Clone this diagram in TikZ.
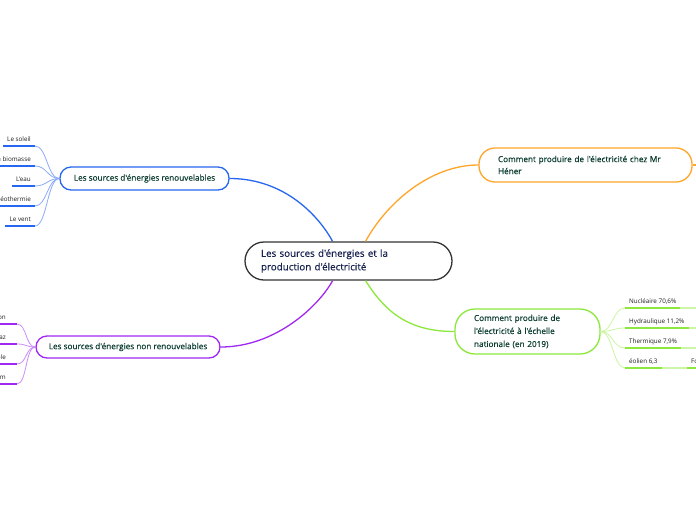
\documentclass[tikz,border=0pt]{standalone}
\usepackage{fontspec}
\setmainfont{Open Sans}[Ligatures=TeXOff]
\newfontfamily\mapfont{Open Sans}[Ligatures=TeXOff, FakeBold=0.35]
\usetikzlibrary{positioning}
\definecolor{renblue}{RGB}{38,102,240}
\definecolor{renpale}{RGB}{140,172,250}
\definecolor{nonpurple}{RGB}{160,40,240}
\definecolor{nonpale}{RGB}{205,140,250}
\definecolor{henorange}{RGB}{255,165,40}
\definecolor{natgreen}{RGB}{140,232,60}
\definecolor{natpale}{RGB}{205,245,165}
\definecolor{labelgreen}{RGB}{12,62,48}
\definecolor{labelnavy}{RGB}{24,34,80}
\definecolor{leafgray}{RGB}{30,30,30}
\tikzset{
  topic/.style={draw, line width=1.3pt, fill=white, align=left, text=labelgreen,
    font=\mapfont\fontsize{8.2}{12}\selectfont, inner ysep=0pt},
  leaf/.style={inner xsep=4pt, inner ysep=3pt, text depth=1.5pt, text=leafgray,
    font=\fontsize{6.3}{7}\selectfont},
  branch/.style={line width=1.3pt},
  twig/.style={line width=0.8pt},
  under/.style={line width=1.4pt}
}
\newcommand*{\Underline}[2]{\draw[under, #1] (#2.south west) -- (#2.south east);}

\begin{document}
\begin{tikzpicture}[x=1pt,y=-1pt]
    \useasboundingbox (0,0) rectangle (696,520);
    \clip (0,0) rectangle (696,520);
    \fill[white] (0,0) rectangle (696,520);

    \node[topic, draw=black!80, text=labelnavy, font=\mapfont\fontsize{9.8}{13.5}\selectfont,
      minimum width=207pt, minimum height=38pt, text width=175pt, inner xsep=16pt,
      rounded corners=19pt] (root) at (348.5,261)
      {Les sources d'énergies et la\\production d'électricité};

    \node[topic, draw=renblue, minimum width=169pt, minimum height=23pt,
      rounded corners=11pt] (renew) at (144.5,178.5)
      {Les sources d'énergies renouvelables};
    \node[topic, draw=nonpurple, minimum width=184pt, minimum height=22pt,
      rounded corners=11pt] (nonrenew) at (128,347)
      {Les sources d'énergies non renouvelables};
    \node[topic, draw=henorange, minimum width=213pt, minimum height=34pt,
      text width=175pt, inner xsep=19pt, rounded corners=16pt] (hener) at (585.5,165)
      {Comment produire de l'électricité chez Mr\\Héner};
    \node[topic, draw=natgreen, font=\mapfont\fontsize{8.2}{13}\selectfont,
      minimum width=145pt, minimum height=45pt, text width=107pt, inner xsep=19pt,
      rounded corners=20pt] (national) at (527.5,331.5)
      {Comment produire de\\l'électricité à l'échelle\\nationale (en 2019)};

    \draw[branch, renblue] (root.129) .. controls +(-13,-24) and +(56,0) .. (renew.east);
    \draw[branch, henorange] (root.49) .. controls +(20,-37) and +(-49,0) .. (hener.west);
    \draw[branch, nonpurple] (root.-129) .. controls +(-13,24) and +(56,0) .. (nonrenew.east);
    \draw[branch, natgreen] (root.-49) .. controls +(20,32) and +(-45,0) .. (national.west);

    \node[leaf, anchor=south east] (soleil) at (35,146) {Le soleil};
    \node[leaf, anchor=south east] (biomasse) at (35,166) {La biomasse};
    \node[leaf, anchor=south east] (eau) at (35,186) {L'eau};
    \node[leaf, anchor=south east] (geo) at (35,206) {Géothermie};
    \node[leaf, anchor=south east] (vent) at (35,226) {Le vent};
    \foreach \n in {soleil,biomasse,eau,geo,vent}{
      \Underline{renblue}{\n}
      \draw[twig, renpale] (renew.west) .. controls +(-12,0) and +(12,0) .. (\n.south east);
    }

    \node[leaf, anchor=south east] (charbon) at (17,324) {Charbon\kern7pt};
    \node[leaf, anchor=south east] (gaz) at (17,344) {Gaz\kern7pt};
    \node[leaf, anchor=south east] (petrole) at (17,364) {Pétrole\kern7pt};
    \node[leaf, anchor=south east] (uranium) at (17,384) {Uranium\kern7pt};
    \foreach \n in {charbon,gaz,petrole,uranium}{
      \Underline{nonpurple}{\n}
      \draw[twig, nonpale] (nonrenew.west) .. controls +(-10,0) and +(10,0) .. (\n.south east);
    }

    \node[leaf, anchor=south west] (nucl) at (625,308) {Nucléaire 70,6\%};
    \node[leaf, anchor=south west] (hydro) at (625,328) {Hydraulique 11,2\%};
    \node[leaf, anchor=south west] (therm) at (625,348) {Thermique 7,9\%};
    \node[leaf, anchor=south west] (eolien) at (625,368) {éolien 6,3};
    \node[leaf, anchor=south west] (fo) at (687,368) {Fo};
    \coordinate (nuclout) at (700,308);
    \coordinate (hydroout) at (700,328);
    \coordinate (thermout) at (700,348);
    \coordinate (foout) at (700,368);
    \coordinate (henerout) at (700,165);
    \foreach \n in {nucl,hydro,therm,eolien}{
      \draw[twig, natpale] (national.east) .. controls +(12,0) and +(-12,0) .. (\n.south west);
    }
    \draw[under, natpale] (nucl.south east) -- (nuclout);
    \draw[under, natpale] (hydro.south east) -- (hydroout);
    \draw[under, natpale] (therm.south east) -- (thermout);
    \draw[under, natpale] (eolien.south east) -- (fo.south west);
    \foreach \n in {nucl,hydro,therm,eolien,fo}{
      \Underline{natgreen}{\n}
    }
    \draw[under, natgreen] (fo.south east) -- (foout);
    \draw[branch, henorange] (hener.east) -- (henerout);
  \end{tikzpicture}
\end{document}
